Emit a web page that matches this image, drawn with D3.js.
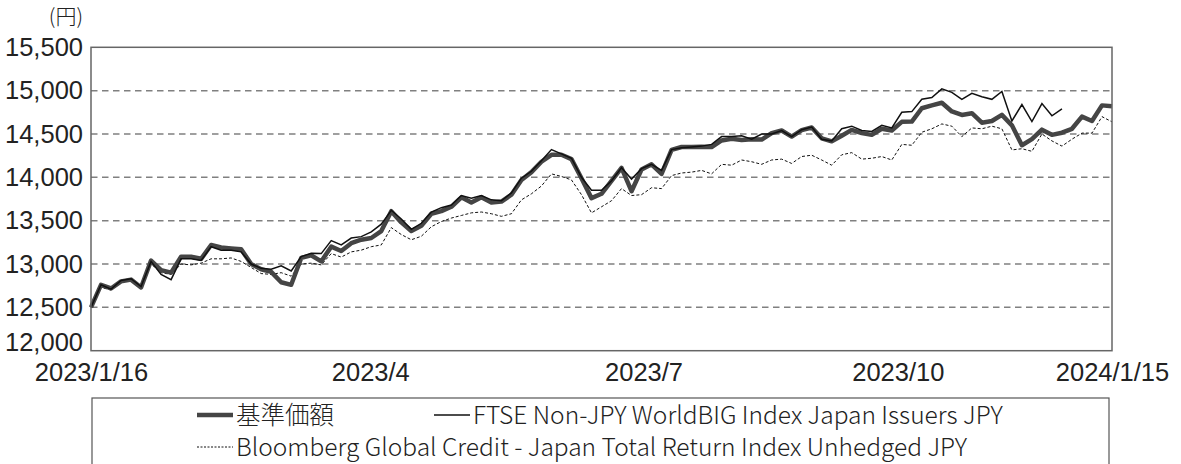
<!DOCTYPE html>
<html>
<head>
<meta charset="utf-8">
<script src="https://cdn.jsdelivr.net/npm/d3@7"></script>
<style>
  body { margin: 0; background: #fff; }
  svg { display: block; font-family: "Noto Sans CJK JP", "Noto Sans", sans-serif; font-weight: 300; }
</style>
</head>
<body>
<div id="chart"></div>
<script>
// series names
const seriesNames = ["基準価額", "FTSE Non-JPY WorldBIG Index Japan Issuers JPY",
  "Bloomberg Global Credit - Japan Total Return Index Unhedged JPY"];

// values, one point per ~ 2.5 trading days
const nav = [
  12500,12760,12718,12800,12820,12730,13040,12930,12900,13085,
  13085,13060,13220,13190,13180,13170,13000,12940,12910,12790,
  12760,13070,13100,13030,13200,13150,13240,13280,13300,13380,
  13610,13480,13380,13440,13580,13610,13660,13770,13710,13770,
  13710,13720,13800,13970,14060,14180,14260,14260,14210,13990,
  13760,13810,13960,14110,13840,14090,14150,14040,14316,14350,
  14350,14354,14350,14425,14445,14430,14440,14435,14510,14540,
  14470,14545,14575,14450,14415,14480,14547,14510,14490,14560,
  14540,14640,14643,14797,14830,14860,14760,14720,14740,14630,
  14650,14720,14600,14370,14440,14550,14490,14515,14560,14700,
  14650,14830,14820
];
const ftse = [
  12500,12760,12710,12810,12830,12740,13030,12880,12820,13060,
  13060,13040,13200,13160,13160,13140,13000,12950,12940,12980,
  12920,13085,13124,13120,13270,13220,13300,13316,13370,13460,
  13620,13520,13400,13470,13600,13650,13680,13790,13760,13790,
  13740,13730,13820,13990,14070,14190,14320,14270,14220,14000,
  13850,13850,13960,14110,13980,14100,14150,14080,14320,14340,
  14350,14360,14380,14470,14470,14480,14440,14500,14500,14540,
  14470,14550,14580,14440,14420,14560,14590,14540,14530,14600,
  14570,14750,14758,14900,14920,15020,14980,14900,14970,14930,
  14900,14990,14650,14840,14643,14850,14710,14790,null,null,
  null,null,null
];
const bbg = [
  12500,12730,12700,12790,12810,12730,13000,12900,12880,13000,
  12990,13010,13060,13060,13070,13030,12960,12890,12880,12900,
  12860,13000,13010,12990,13120,13080,13140,13160,13200,13220,
  13420,13340,13280,13320,13430,13490,13530,13560,13590,13600,
  13580,13550,13580,13740,13810,13900,14040,14010,13970,13800,
  13590,13660,13730,13870,13790,13800,13880,13870,14020,14050,
  14060,14080,14040,14150,14140,14200,14180,14150,14200,14210,
  14160,14240,14255,14200,14140,14260,14285,14210,14220,14240,
  14200,14380,14370,14520,14560,14616,14590,14470,14570,14560,
  14590,14560,14316,14330,14300,14500,14420,14360,14440,14510,
  14510,14700,14640
];

// x tick labels and where they fall on the point index
const xTickLabels = ["2023/1/16", "2023/4", "2023/7", "2023/10", "2024/1/15"];
const xTickIdx = [0, 27.9, 55.2, 80.6, 102];
const yTicks = [12000, 12500, 13000, 13500, 14000, 14500, 15000, 15500];
const yGrid = [12500, 13000, 13500, 14000, 14500, 15000];

const W = 1181, H = 464;
const mLeft = 91, mRight = 1112, mTop = 47.3, mBottom = 350.7;

const svg = d3.select("#chart").append("svg")
  .attr("width", W).attr("height", H);

const x = d3.scaleLinear().domain([0, nav.length - 1]).range([mLeft, mRight]);
const y = d3.scaleLinear().domain([12000, 15500]).range([mBottom, mTop]);

// dashed grid
svg.append("g")
  .selectAll("line")
  .data(yGrid)
  .join("line")
  .attr("x1", mLeft).attr("x2", mRight)
  .attr("y1", d => y(d)).attr("y2", d => y(d))
  .attr("stroke", "#808080")
  .attr("stroke-width", 1.5)
  .attr("stroke-dasharray", "6.5,4.5");

// y axis labels
const yAxis = d3.axisLeft(y).tickValues(yTicks).tickFormat(d3.format(",")).tickSize(0).tickPadding(8);
const gy = svg.append("g").attr("transform", `translate(${mLeft},0)`).call(yAxis);
gy.select(".domain").remove();
gy.selectAll("text").attr("font-size", 25.5).attr("fill", "#222")
  .attr("font-family", null);
// lowest label sits a little higher so it clears the date labels
gy.selectAll(".tick").filter(d => d === 12000).select("text").attr("y", -8);

svg.append("text")
  .attr("x", 83).attr("y", 24)
  .attr("text-anchor", "end")
  .attr("font-size", 21).attr("fill", "#222")
  .text("(円)");

// x axis labels
const xAxis = d3.axisBottom(x).tickValues(xTickIdx)
  .tickFormat((d, i) => xTickLabels[i]).tickSize(0).tickPadding(12);
const gx = svg.append("g").attr("transform", `translate(0,${mBottom})`).call(xAxis);
gx.select(".domain").remove();
gx.selectAll("text").attr("font-size", 25.5).attr("fill", "#222")
  .attr("font-family", null);

// lines
const line = d3.line()
  .defined(d => d != null)
  .x((d, i) => x(i))
  .y(d => y(d));

svg.append("path")
  .attr("d", line(bbg))
  .attr("fill", "none")
  .attr("stroke", "#111")
  .attr("stroke-width", 1)
  .attr("stroke-dasharray", "3,2");

svg.append("path")
  .attr("d", line(nav))
  .attr("fill", "none")
  .attr("stroke", "#454545")
  .attr("stroke-width", 4.5)
  .attr("stroke-linejoin", "round");

svg.append("path")
  .attr("d", line(ftse))
  .attr("fill", "none")
  .attr("stroke", "#111")
  .attr("stroke-width", 1.5);

// plot frame
svg.append("rect")
  .attr("x", mLeft).attr("y", mTop)
  .attr("width", mRight - mLeft).attr("height", mBottom - mTop)
  .attr("fill", "none")
  .attr("stroke", "#666")
  .attr("stroke-width", 1.5);

// legend
const lg = svg.append("g");
lg.append("rect")
  .attr("x", 92).attr("y", 398)
  .attr("width", 1017).attr("height", 80)
  .attr("fill", "none")
  .attr("stroke", "#555")
  .attr("stroke-width", 1.2);

const legendItems = [
  {name: seriesNames[0], lx: 197, ly: 415, w: 4.5, c: "#454545", dash: null},
  {name: seriesNames[1], lx: 434, ly: 415, w: 1.5, c: "#111", dash: null},
  {name: seriesNames[2], lx: 197, ly: 447, w: 1, c: "#111", dash: "2,1.5"}
];
legendItems.forEach(it => {
  lg.append("line")
    .attr("x1", it.lx).attr("x2", it.lx + 36)
    .attr("y1", it.ly).attr("y2", it.ly)
    .attr("stroke", it.c).attr("stroke-width", it.w)
    .attr("stroke-dasharray", it.dash);
  lg.append("text")
    .attr("x", it.lx + 39).attr("y", it.ly)
    .attr("dy", "0.35em")
    .attr("font-size", 24.5).attr("fill", "#222")
    .text(it.name);
});
</script>
</body>
</html>
